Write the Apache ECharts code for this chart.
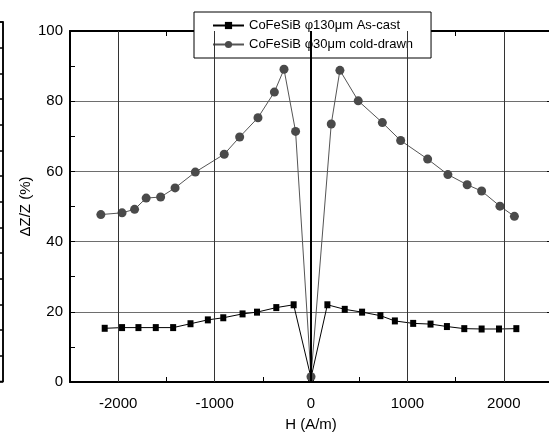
<!DOCTYPE html>
<html>
<head>
<meta charset="utf-8">
<script src="https://cdn.jsdelivr.net/npm/echarts@6/dist/echarts.min.js"></script>
<style>html,body{margin:0;padding:0;background:#fff}#c{width:549px;height:436px}</style>
</head>
<body>
<div id="c"></div>
<script>
var seriesNames = ['CoFeSiB \u03c6130\u03bcm As-cast', 'CoFeSiB \u03c630\u03bcm cold-drawn'];
var asCastH = [-2140,-1960,-1790,-1610,-1430,-1250,-1070,-910,-710,-560,-360,-180,0,170,350,530,720,870,1060,1240,1410,1590,1770,1950,2130];
var asCastZ = [15.3,15.5,15.5,15.5,15.5,16.6,17.7,18.3,19.4,19.9,21.2,22.0,1.2,22.0,20.7,19.9,18.9,17.4,16.7,16.5,15.8,15.2,15.1,15.1,15.2];
var coldH = [-2180,-1960,-1830,-1710,-1560,-1410,-1200,-900,-740,-550,-380,-280,-160,0,210,300,490,740,930,1210,1420,1620,1770,1960,2110];
var coldZ = [47.7,48.2,49.2,52.4,52.7,55.3,59.8,64.9,69.8,75.3,82.6,89.1,71.4,1.5,73.5,88.8,80.1,73.9,68.8,63.5,59.1,56.2,54.4,50.1,47.2];
var xGridLines = [-2000, -1000, 1000, 2000];
var xLabelValues = [-2000, -1000, 0, 1000, 2000];

var FONT = '"Liberation Sans", Arial, sans-serif';
function zip(a, b) { return a.map(function (v, i) { return [v, b[i]]; }); }

var chart = echarts.init(document.getElementById('c'), null, {renderer: 'canvas'});
var option = {
  animation: false,
  backgroundColor: '#fff',
  textStyle: {fontFamily: FONT},
  grid: [
    {left: 70, top: 31, right: -3, bottom: 54, show: false, outerBoundsMode: 'none', containLabel: false},
    {left: -300, right: 546, top: 22, bottom: 54.5, show: true, borderColor: '#000', borderWidth: 1.5, backgroundColor: 'transparent', outerBoundsMode: 'none', containLabel: false}
  ],
  legend: {
    left: 194, top: 12, orient: 'vertical',
    padding: [7, 18, 7, 18], itemGap: 6,
    itemWidth: 31, itemHeight: 9,
    backgroundColor: '#fff', borderColor: '#000', borderWidth: 1,
    textStyle: {fontFamily: FONT, fontSize: 13, color: '#000', lineHeight: 13},
    data: seriesNames
  },
  xAxis: [
    {
      type: 'value', gridIndex: 0, position: 'bottom', min: -2500, max: 2500, interval: 500,
      axisLine: {show: true, onZero: false, lineStyle: {color: '#000', width: 2}},
      axisTick: {show: true, inside: true, length: 5, lineStyle: {color: '#000'}},
      axisLabel: {
        fontFamily: FONT, fontSize: 15, color: '#000', margin: 14,
        formatter: function (v) { return xLabelValues.indexOf(v) >= 0 ? String(v) : ''; }
      },
      splitLine: {show: false},
      name: 'H (A/m)', nameLocation: 'middle', nameGap: 35,
      nameTextStyle: {fontFamily: FONT, fontSize: 15, color: '#000'}
    },
    {
      type: 'value', gridIndex: 0, position: 'top', min: -2500, max: 2500, interval: 500,
      axisLine: {show: true, onZero: false, lineStyle: {color: '#000', width: 2}},
      axisTick: {show: true, inside: true, length: 5, lineStyle: {color: '#000'}},
      axisLabel: {show: false}, splitLine: {show: false}
    },
    {type: 'value', gridIndex: 1, min: 0, max: 1, show: false}
  ],
  yAxis: [
    {
      type: 'value', gridIndex: 0, position: 'left', min: 0, max: 100, interval: 20,
      axisLine: {show: true, onZero: false, lineStyle: {color: '#000', width: 2}},
      axisTick: {show: true, inside: true, length: 5, lineStyle: {color: '#000'}},
      minorTick: {show: true, splitNumber: 2, length: 5, lineStyle: {color: '#000'}},
      axisLabel: {fontFamily: FONT, fontSize: 15, color: '#000', margin: 7},
      splitLine: {show: true, lineStyle: {color: '#6e6e6e', width: 1}},
      name: '\u0394Z/Z (%)', nameLocation: 'middle', nameGap: 37, nameMoveOverlap: false,
      nameTextStyle: {fontFamily: FONT, fontSize: 15, color: '#000'}
    },
    {
      type: 'value', gridIndex: 0, position: 'right', min: 0, max: 100, interval: 20,
      axisLine: {show: true, onZero: false, lineStyle: {color: '#000', width: 2}},
      axisTick: {show: true, inside: true, length: 5, lineStyle: {color: '#000'}},
      minorTick: {show: false},
      axisLabel: {show: false}, splitLine: {show: false}
    },
    {
      type: 'value', gridIndex: 1, position: 'right', min: 0, max: 14, interval: 1,
      axisLine: {show: true, onZero: false, lineStyle: {color: '#000', width: 1.5}},
      axisTick: {show: true, inside: true, length: 3, lineStyle: {color: '#000', width: 1.5}},
      axisLabel: {show: false}, splitLine: {show: false}
    }
  ],
  series: [
    {
      type: 'line', xAxisIndex: 0, yAxisIndex: 0, data: [], silent: true, z: 1,
      markLine: {
        silent: true, symbol: 'none', label: {show: false},
        lineStyle: {type: 'solid', color: '#333', width: 1},
        data: xGridLines.map(function (v) { return {xAxis: v}; }).concat([
          {xAxis: 0, lineStyle: {color: '#000', width: 2, type: 'solid'}}
        ])
      }
    },
    {
      name: seriesNames[0], type: 'line', xAxisIndex: 0, yAxisIndex: 0, z: 3,
      data: zip(asCastH, asCastZ),
      symbol: 'rect', symbolSize: [6, 7],
      itemStyle: {color: '#000'},
      lineStyle: {color: '#000', width: 1}
    },
    {
      name: seriesNames[1], type: 'line', xAxisIndex: 0, yAxisIndex: 0, z: 4,
      data: zip(coldH, coldZ),
      symbol: 'circle', symbolSize: 9,
      itemStyle: {color: '#4a4a4a'},
      lineStyle: {color: '#555', width: 1}
    }
  ]
};
chart.setOption(option);
</script>
</body>
</html>
